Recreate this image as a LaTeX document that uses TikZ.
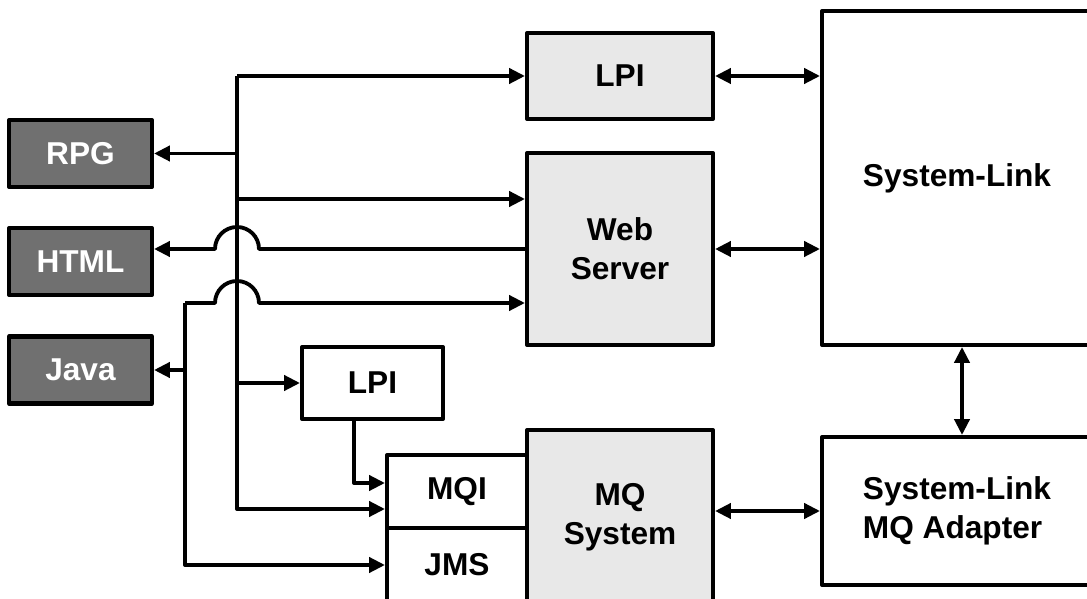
\documentclass[tikz,border=0pt]{standalone}
\usepackage{fontspec}
\setmainfont{Liberation Sans}
\usetikzlibrary{arrows.meta, calc, positioning}
\definecolor{boxdark}{RGB}{112,112,112}
\definecolor{boxlight}{RGB}{232,232,232}

\begin{document}
\begin{tikzpicture}[x=0.02cm, y=0.02cm, line join=round,
    >={Triangle[length=9pt, width=8.5pt]},
    blk/.style={draw, line width=2.3pt, align=center, inner sep=0pt,
        font=\fontsize{18}{22}\selectfont\bfseries},
    client/.style={blk, fill=boxdark, text=white, minimum width=2.86cm, minimum height=1.34cm},
    server/.style={blk, fill=boxlight, minimum width=3.72cm},
    plain/.style={blk, fill=white},
    link/.style={line width=2.2pt}]

    \useasboundingbox (0,0) rectangle (1087,598);
    \clip (0,0) rectangle (1087,598);

    % Clients on the left
    \node[client] (rpg) at (80.5,444.5) {RPG};
    \node[client] (html) at (80.5,336.5) {HTML};
    \node[client] (java) at (80.5,228) {Java};

    % Middle column
    \node[server, minimum height=1.72cm] (lpi) at (620,522) {LPI};
    \node[server, minimum height=3.84cm] (web) at (620,349) {Web\\Server};
    \node[server, minimum height=3.5cm] (mq) at (620,80.5) {MQ\\System};
    \node[plain, minimum width=2.82cm, minimum height=1.44cm] (lpi2) at (372.5,215) {LPI};
    \node[plain, minimum width=2.8cm, minimum height=1.46cm] (mqi) at (457,106.5) {MQI};
    \node[plain, minimum width=2.8cm, minimum height=1.48cm] (jms) at (457,33) {JMS};

    % Right column
    \node[plain, minimum width=5.4cm, minimum height=6.68cm] (sl) at (957,420) {System-Link};
    \node[plain, minimum width=5.4cm, minimum height=2.96cm, align=left] (adapter) at (957,87) {System-Link\\MQ Adapter};

    % Bus lines
    \coordinate (top) at (237,522);
    \coordinate (bot) at (237,89);
    \coordinate (side) at (185,295);
    \coordinate (foot) at (185,33);
    \coordinate (web in) at ($(web.west)+(0,50)$);
    \coordinate (web out) at ($(web.west)+(0,-54)$);

    \draw[link, ->] (top) -- (lpi.west);
    \draw[link, ->] (top) -- (bot) -- (bot -| mqi.west);
    \draw[link, ->] (top |- rpg.east) -- (rpg.east);
    \draw[link, ->] (top |- web in) -- (web in);
    \draw[link, ->] (top |- lpi2.west) -- (lpi2.west);
    \draw[link, ->] ($(lpi2.south)+(-18.5,0)$) |- ($(mqi.west)+(0,8.5)$);

    % Lines that hop over the bus
    \draw[link, ->] (web.west) -- ($(top |- web.west)+(22,0)$) arc (0:180:22) -- (html.east |- web.west);
    \draw[link, ->] (side) -- ($(top |- side)+(-22,0)$) arc (180:0:22) -- (web out);
    \draw[link, ->] (side) -- (foot) -- (jms.west);
    \draw[link, ->] (side |- java.east) -- (java.east);

    % Links to System-Link
    \draw[link, <->] (lpi.east) -- (lpi.east -| sl.west);
    \draw[link, <->] (web.east) -- (web.east -| sl.west);
    \draw[link, <->] (mq.east |- adapter.west) -- (adapter.west);
    \draw[link, <->] ($(sl.south)+(5,0)$) -- ($(adapter.north)+(5,0)$);
\end{tikzpicture}
\end{document}
